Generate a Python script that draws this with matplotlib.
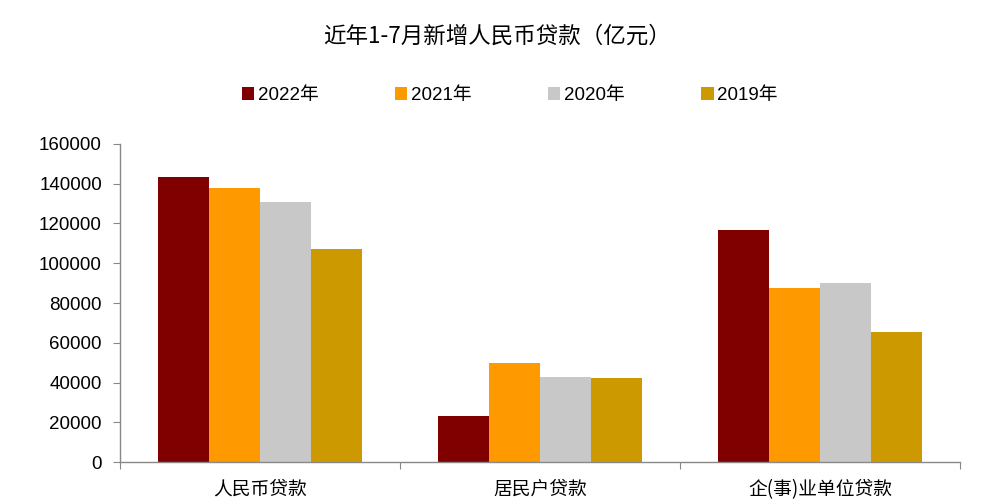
import numpy as np
import matplotlib
matplotlib.use("Agg")
import matplotlib.pyplot as plt
from matplotlib.patches import Patch

plt.rcParams['font.family'] = ['Liberation Sans', 'Noto Sans CJK SC', 'DejaVu Sans']

categories = ['人民币贷款', '居民户贷款', '企(事)业单位贷款']
years = ['2022年', '2021年', '2020年', '2019年']
v2022 = [143400, 22900, 116500]
v2021 = [137900, 49600, 87800]
v2020 = [130600, 43000, 90300]
v2019 = [107200, 42500, 65400]
colors = ['#800000', '#FF9900', '#C8C8C8', '#CC9900']

series = [v2022, v2021, v2020, v2019]

fig = plt.figure(figsize=(9.94, 5.04), dpi=100)
ax = fig.add_axes([0.1207, 0.0833, 0.845, 0.631])

x = np.arange(len(categories))
w = 0.182
for i, (vals, c) in enumerate(zip(series, colors)):
    ax.bar(x + (i - 1.5) * w, vals, width=w, color=c, edgecolor='none')

ax.set_xlim(-0.5, 2.5)
ax.set_ylim(0, 160000)
ax.set_yticks(np.arange(0, 160001, 20000))
ax.set_yticklabels([str(v) for v in range(0, 160001, 20000)], fontsize=13.5)

# category boundary ticks, labels at centres
ax.set_xticks([-0.5, 0.5, 1.5, 2.5])
ax.set_xticklabels([])
ax.set_xticks(x, minor=True)
ax.set_xticklabels(categories, minor=True, fontsize=13.5,
                   family=['Noto Sans CJK SC', 'DejaVu Sans'])
ax.tick_params(axis='x', which='minor', length=0, pad=12)
ax.tick_params(axis='x', which='major', length=5, color='#888888', direction='out')
ax.tick_params(axis='y', length=5, color='#888888', direction='out', pad=8)

for s in ['top', 'right']:
    ax.spines[s].set_visible(False)
for s in ['left', 'bottom']:
    ax.spines[s].set_color('#888888')
    ax.spines[s].set_linewidth(1.0)

fig.text(0.5, 0.928, '近年1-7月新增人民币贷款（亿元）', ha='center', va='center',
         fontsize=16.2, family=['Noto Sans CJK SC', 'DejaVu Sans'])

handles = [Patch(facecolor=c, edgecolor='none') for c in colors]
fig.legend(handles, years, loc='center', bbox_to_anchor=(0.513, 0.81), ncol=4,
           frameon=False, handlelength=0.65, handleheight=0.65,
           handletextpad=0.2, columnspacing=4.08,
           prop={'family': ['Liberation Sans', 'Noto Sans CJK SC'], 'size': 13.5})

fig.savefig('out.png', dpi=100)
